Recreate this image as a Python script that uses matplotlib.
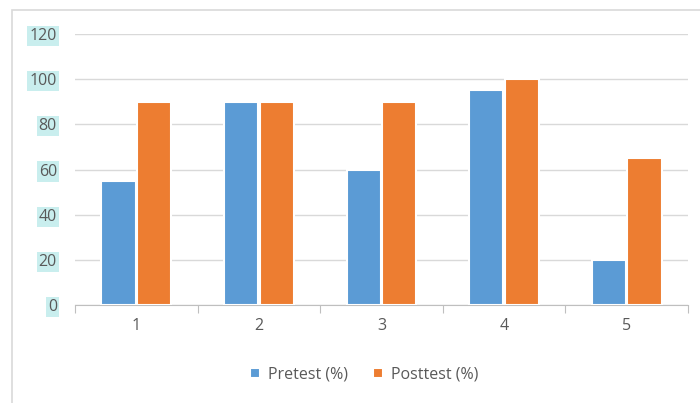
import matplotlib.pyplot as plt
import numpy as np
from matplotlib.patches import Rectangle

plt.rcParams['font.family'] = ['Open Sans', 'DejaVu Sans']

categories = ['1', '2', '3', '4', '5']
pretest = [55, 90, 60, 95, 20]
posttest = [90, 90, 90, 100, 65]

blue = '#5b9bd5'
orange = '#ed7d31'
grid_c = '#d9d9d9'
text_c = '#595959'

fig = plt.figure(figsize=(7, 4.03), dpi=100)
# outer chart border
fig.patches.append(Rectangle((12 / 700, -0.05), 1.0, 1 - 10 / 403 + 0.05,
                             transform=fig.transFigure, fill=False,
                             edgecolor='#d9d9d9', linewidth=1.2))

ax = fig.add_axes([75 / 700, 1 - 305 / 403, 613 / 700, 271 / 403])
x = np.arange(len(categories))
w = 0.28
off = 0.145
ax.bar(x - off, pretest, w, color=blue, edgecolor='white', linewidth=1.5,
       label='Pretest (%)', zorder=3)
ax.bar(x + off, posttest, w, color=orange, edgecolor='white', linewidth=1.5,
       label='Posttest (%)', zorder=3)

ax.set_xlim(-0.5, len(categories) - 0.5)
ax.set_ylim(0, 120)
ax.set_yticks(range(0, 121, 20))
ax.yaxis.grid(True, color=grid_c, linewidth=1)
ax.set_axisbelow(True)
for s in ['top', 'right', 'left']:
    ax.spines[s].set_visible(False)
ax.spines['bottom'].set_color('#bfbfbf')
ax.tick_params(axis='y', length=0, pad=13, labelcolor=text_c, labelsize=11.5)

ax.set_xticks(np.arange(-0.5, len(categories), 1.0))
ax.set_xticklabels([])
ax.set_xticks(x, minor=True)
ax.set_xticklabels(categories, minor=True)
ax.tick_params(axis='x', which='major', length=6, color='#bfbfbf')
ax.tick_params(axis='x', which='minor', length=0, pad=9, labelcolor=text_c,
               labelsize=11.5)

for lab in ax.get_yticklabels():
    lab.set_bbox(dict(facecolor='#c9eeee', edgecolor='none', pad=1.5))

leg = fig.legend(loc='center', bbox_to_anchor=(0.52, 0.07), ncol=2,
                 frameon=False, handlelength=0.6, handleheight=0.6,
                 handletextpad=0.5, columnspacing=1.6, fontsize=11.5)
for t in leg.get_texts():
    t.set_color(text_c)

fig.savefig('out.png', dpi=100)
